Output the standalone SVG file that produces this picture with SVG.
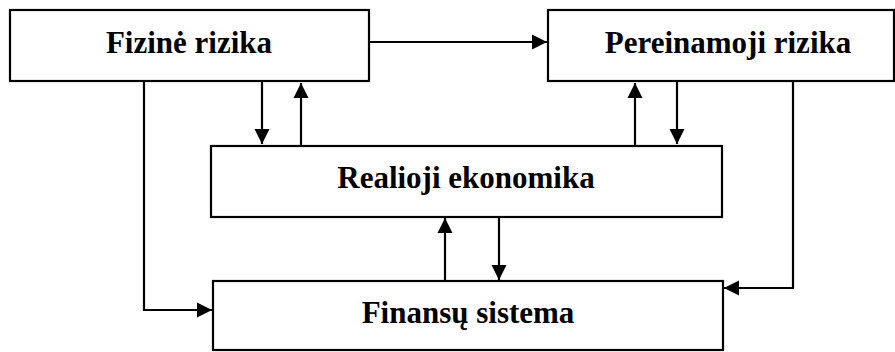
<svg xmlns="http://www.w3.org/2000/svg" width="895" height="352" viewBox="0 0 895 352">
<style>
.box{fill:#fff;stroke:#000;stroke-width:2.2}
.lbl{font-family:"Liberation Serif","Times New Roman",serif;font-weight:bold;font-size:31px;fill:#000;text-anchor:middle}
.con{fill:none;stroke:#000;stroke-width:2.2}
</style>
<defs>
<marker id="ah" markerUnits="userSpaceOnUse" markerWidth="16" markerHeight="16" viewBox="0 0 16 16" refX="15" refY="8" orient="auto">
<path d="M0,0.5 L15,8 L0,15.5 Z" fill="#000"/>
</marker>
</defs>
<rect x="0" y="0" width="895" height="352" fill="#fff"/>
<g id="connectors">
<path class="con" d="M370,42 H547" marker-end="url(#ah)"/>
<path class="con" d="M262,82 V144" marker-end="url(#ah)"/>
<path class="con" d="M301,145 V83" marker-end="url(#ah)"/>
<path class="con" d="M635,145 V83" marker-end="url(#ah)"/>
<path class="con" d="M677,82 V144" marker-end="url(#ah)"/>
<path class="con" d="M445,280 V218" marker-end="url(#ah)"/>
<path class="con" d="M499,218 V280" marker-end="url(#ah)"/>
<path class="con" d="M144,82 V310 H212" marker-end="url(#ah)"/>
<path class="con" d="M793,82 V288 H724" marker-end="url(#ah)"/>
</g>
<g id="fizine">
<rect class="box" x="10" y="10" width="359" height="71"/>
<text class="lbl" x="189" y="53">Fizinė rizika</text>
</g>
<g id="pereinamoji">
<rect class="box" x="548" y="10" width="346" height="71"/>
<text class="lbl" x="728" y="53">Pereinamoji rizika</text>
</g>
<g id="realioji">
<rect class="box" x="211" y="146" width="511" height="71"/>
<text class="lbl" x="466" y="188">Realioji ekonomika</text>
</g>
<g id="finansu">
<rect class="box" x="213" y="281" width="510" height="69"/>
<text class="lbl" x="468" y="323">Finansų sistema</text>
</g>
</svg>
